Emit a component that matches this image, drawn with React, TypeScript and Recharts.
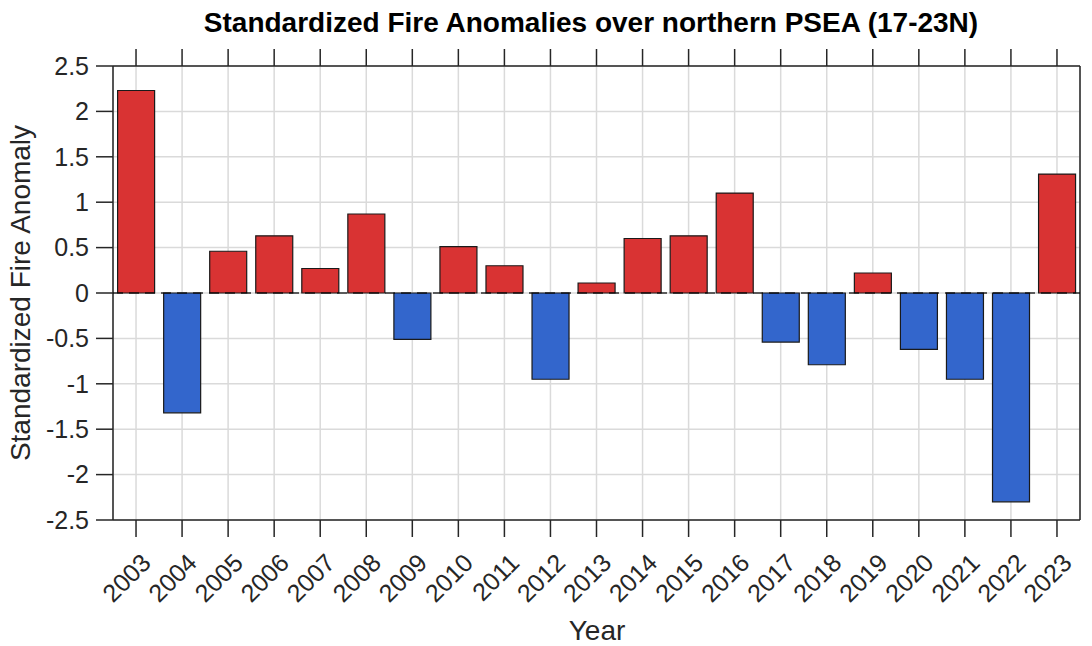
import React from 'react';
import { BarChart, Bar, XAxis, YAxis, CartesianGrid, ReferenceLine, Cell } from 'recharts';

const years = ['2003', '2004', '2005', '2006', '2007', '2008', '2009', '2010', '2011', '2012', '2013', '2014', '2015', '2016', '2017', '2018', '2019', '2020', '2021', '2022', '2023'];
const anomalies = [2.23, -1.32, 0.46, 0.63, 0.27, 0.87, -0.51, 0.51, 0.30, -0.95, 0.11, 0.60, 0.63, 1.10, -0.54, -0.79, 0.22, -0.62, -0.95, -2.30, 1.31];
const yTicks = [-2.5, -2, -1.5, -1, -0.5, 0, 0.5, 1, 1.5, 2, 2.5];
const titleText = 'Standardized Fire Anomalies over northern PSEA (17-23N)';
const xLabelText = 'Year';
const yLabelText = 'Standardized Fire Anomaly';

const POS_COLOR = '#D93333';
const NEG_COLOR = '#3366CC';
const AXIS_COLOR = '#262626';
const FONT = '"Liberation Sans", Arial, Helvetica, sans-serif';

const data = years.map((year, i) => ({ year, value: anomalies[i] }));

const XTick = (props: any) => {
  const { x, y, payload } = props;
  const ax = x + 10;
  const ay = y + 19;
  return (
    <text
      x={ax}
      y={ay}
      textAnchor="end"
      dominantBaseline="central"
      transform={`rotate(-45, ${ax}, ${ay})`}
      fontSize={25}
      fontFamily={FONT}
      fill={AXIS_COLOR}
    >
      {payload.value}
    </text>
  );
};

const EmptyTick = () => <g />;

export default function App() {
  const axisLine = { stroke: AXIS_COLOR, strokeWidth: 1.5 };
  return (
    <div style={{ position: 'absolute', left: 0, top: 0, width: 1092, height: 646, background: '#fff' }}>
      <BarChart
        width={1092}
        height={646}
        data={data}
        margin={{ top: 0, right: 0, bottom: 0, left: 0 }}
        barCategoryGap="10%"
      >
        <CartesianGrid stroke="#dadada" strokeWidth={1.5} />
        <XAxis
          dataKey="year"
          height={126}
          interval={0}
          tickSize={17}
          tickMargin={2}
          axisLine={axisLine}
          tickLine={axisLine}
          tick={(p: any) => <XTick {...p} />}
        />
        <XAxis
          xAxisId="top"
          orientation="top"
          dataKey="year"
          height={66}
          interval={0}
          tickSize={17}
          axisLine={axisLine}
          tickLine={axisLine}
          tick={EmptyTick}
        />
        <YAxis
          type="number"
          domain={[-2.5, 2.5]}
          ticks={yTicks}
          interval={0}
          width={113}
          tickSize={17}
          tickMargin={7}
          axisLine={axisLine}
          tickLine={axisLine}
          tick={{ fontSize: 25, fontFamily: FONT, fill: AXIS_COLOR }}
        />
        <YAxis
          yAxisId="right"
          orientation="right"
          type="number"
          domain={[-2.5, 2.5]}
          ticks={yTicks}
          interval={0}
          width={12}
          tickSize={17}
          axisLine={axisLine}
          tickLine={axisLine}
          tick={EmptyTick}
        />
        <Bar dataKey="value" isAnimationActive={false} stroke="#1a1a1a" strokeWidth={1.2}>
          {data.map((d, i) => (
            <Cell key={i} fill={d.value >= 0 ? POS_COLOR : NEG_COLOR} />
          ))}
        </Bar>
        <ReferenceLine
          y={0}
          stroke="#000"
          strokeOpacity={0.6}
          strokeWidth={2}
          strokeDasharray="10 6"
          zIndex={1000}
        />
      </BarChart>
      <svg
        width={1092}
        height={646}
        style={{ position: 'absolute', left: 0, top: 0, pointerEvents: 'none' }}
      >
        <text x={591} y={32} textAnchor="middle" fontSize={28} fontWeight="bold" fontFamily={FONT} fill="#000">
          {titleText}
        </text>
        <text x={597} y={640} textAnchor="middle" fontSize={28} fontFamily={FONT} fill={AXIS_COLOR}>
          {xLabelText}
        </text>
        <text
          x={30}
          y={293}
          textAnchor="middle"
          transform="rotate(-90, 30, 293)"
          fontSize={28}
          fontFamily={FONT}
          fill={AXIS_COLOR}
        >
          {yLabelText}
        </text>
      </svg>
    </div>
  );
}
